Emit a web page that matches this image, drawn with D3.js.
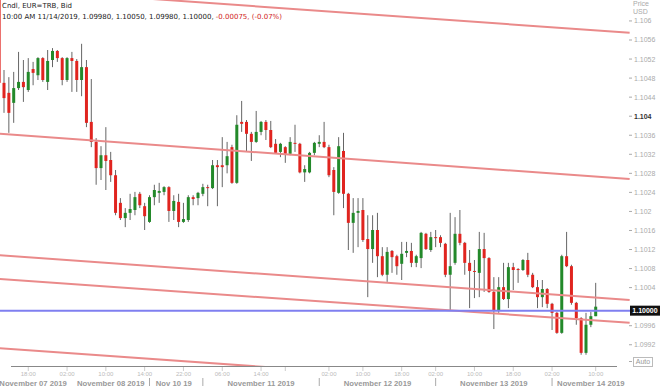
<!DOCTYPE html>
<html>
<head>
<meta charset="utf-8">
<script src="https://cdn.jsdelivr.net/npm/d3@7"></script>
<style>
  body { margin: 0; background: #fff; }
  svg { display: block; }
</style>
</head>
<body>
<svg id="chart"></svg>
<script>
// hourly candles, EUR=TRB bid
const openPrice = [1.10686,1.10470,1.10449,1.10428,1.10459,1.10472,1.10455,1.10499,1.10486,1.10522,
1.10472,1.10518,1.10537,1.10522,1.10476,1.10522,1.10516,1.10476,1.10503,1.10388,
1.10346,1.10291,1.10318,1.10308,1.10276,1.10218,1.10186,1.10197,1.10203,1.10237,
1.10211,1.10178,1.10230,1.10239,1.10241,1.10251,1.10201,1.10220,1.10178,1.10182,
1.10230,1.10228,1.10237,1.10251,1.10249,1.10297,1.10297,1.10297,1.10335,1.10260,
1.10388,1.10388,1.10363,1.10346,1.10367,1.10388,1.10371,1.10342,1.10325,1.10335,
1.10321,1.10344,1.10342,1.10282,1.10282,1.10323,1.10342,1.10346,1.10335,1.10287,
1.10239,1.10327,1.10237,1.10176,1.10197,1.10203,1.10142,1.10121,1.10161,1.10106,
1.10067,1.10117,1.10106,1.10090,1.10113,1.10117,1.10092,1.10102,1.10153,1.10119,
1.10146,1.10146,1.10132,1.10067,1.10092,1.10153,1.10134,1.10092,1.10075,1.10071,
1.10121,1.10102,1.10031,1.09993,1.10041,1.10016,1.10083,1.10079,1.10077,1.10098,
1.10067,1.10041,1.10020,1.10037,1.10006,1.09987,1.09945,1.10106,1.10085,1.10008,
1.09976,1.09903,1.09962,1.09980];
const highPrice = [1.10697,1.10497,1.10482,1.10493,1.10535,1.10518,1.10522,1.10514,1.10524,1.10524,
1.10539,1.10543,1.10539,1.10524,1.10524,1.10535,1.10520,1.10552,1.10518,1.10478,
1.10354,1.10337,1.10377,1.10325,1.10287,1.10228,1.10207,1.10237,1.10241,1.10241,
1.10218,1.10234,1.10256,1.10260,1.10253,1.10253,1.10234,1.10237,1.10218,1.10234,
1.10234,1.10241,1.10258,1.10256,1.10308,1.10308,1.10356,1.10346,1.10340,1.10402,
1.10432,1.10392,1.10367,1.10411,1.10390,1.10392,1.10390,1.10352,1.10344,1.10337,
1.10356,1.10382,1.10344,1.10297,1.10325,1.10346,1.10360,1.10388,1.10340,1.10293,
1.10356,1.10365,1.10239,1.10228,1.10228,1.10228,1.10192,1.10192,1.10197,1.10125,
1.10125,1.10119,1.10109,1.10136,1.10136,1.10134,1.10109,1.10157,1.10155,1.10157,
1.10161,1.10150,1.10134,1.10197,1.10188,1.10203,1.10136,1.10119,1.10098,1.10157,
1.10155,1.10104,1.10062,1.10062,1.10092,1.10092,1.10092,1.10081,1.10100,1.10113,
1.10071,1.10056,1.10056,1.10039,1.10008,1.09989,1.10109,1.10157,1.10088,1.10010,
1.09978,1.09987,1.09989,1.10050];
const lowPrice = [1.10459,1.10407,1.10365,1.10386,1.10455,1.10430,1.10451,1.10465,1.10476,1.10472,
1.10455,1.10503,1.10514,1.10465,1.10472,1.10451,1.10451,1.10442,1.10377,1.10335,
1.10256,1.10266,1.10245,1.10262,1.10192,1.10182,1.10167,1.10182,1.10192,1.10207,
1.10161,1.10176,1.10213,1.10218,1.10234,1.10178,1.10182,1.10167,1.10176,1.10178,
1.10213,1.10213,1.10232,1.10211,1.10247,1.10211,1.10251,1.10280,1.10258,1.10258,
1.10367,1.10325,1.10306,1.10344,1.10360,1.10350,1.10333,1.10321,1.10314,1.10302,
1.10318,1.10325,1.10280,1.10262,1.10280,1.10318,1.10335,1.10333,1.10272,1.10192,
1.10237,1.10207,1.10119,1.10113,1.10125,1.10136,1.10020,1.10092,1.10062,1.10064,
1.10052,1.10071,1.10067,1.10056,1.10104,1.10083,1.10083,1.10081,1.10119,1.10115,
1.10125,1.10125,1.10062,1.09993,1.10088,1.10129,1.10067,1.09997,1.10018,1.10020,
1.10031,1.10029,1.09953,1.09987,1.10014,1.09997,1.10035,1.10050,1.10075,1.10062,
1.10039,1.09997,1.09999,1.09997,1.09951,1.09943,1.09943,1.10083,1.10004,1.09962,
1.09899,1.09899,1.09957,1.09980];
const closePrice = [1.10470,1.10438,1.10407,1.10459,1.10472,1.10461,1.10493,1.10491,1.10522,1.10476,
1.10516,1.10537,1.10522,1.10476,1.10522,1.10516,1.10476,1.10503,1.10386,1.10346,
1.10291,1.10318,1.10306,1.10276,1.10197,1.10186,1.10197,1.10205,1.10230,1.10213,
1.10190,1.10230,1.10245,1.10243,1.10251,1.10201,1.10222,1.10178,1.10184,1.10230,
1.10226,1.10239,1.10251,1.10249,1.10297,1.10293,1.10293,1.10316,1.10260,1.10382,
1.10384,1.10363,1.10346,1.10367,1.10388,1.10371,1.10335,1.10323,1.10342,1.10321,
1.10346,1.10342,1.10282,1.10289,1.10323,1.10344,1.10346,1.10335,1.10276,1.10241,
1.10337,1.10237,1.10176,1.10197,1.10201,1.10140,1.10121,1.10161,1.10106,1.10067,
1.10115,1.10104,1.10085,1.10111,1.10117,1.10092,1.10106,1.10155,1.10121,1.10146,
1.10144,1.10134,1.10067,1.10085,1.10153,1.10134,1.10092,1.10075,1.10073,1.10121,
1.10102,1.10031,1.09993,1.10041,1.10016,1.10083,1.10077,1.10077,1.10098,1.10067,
1.10041,1.10020,1.10037,1.10006,1.09987,1.09945,1.10106,1.10085,1.10008,1.09976,
1.09903,1.09962,1.09980,1.10000];

// regression channel lines (price at candle 0 and at candle 130)
const channelIndex = [0, 130];
const channelStart = [1.10669, 1.10363, 1.10108, 1.10058, 1.09913];
const channelEnd = [1.10575, 1.10268, 1.10014, 1.09966, 1.09819];

// axis ticks
const yTicks = [1.106,1.1056,1.1052,1.1048,1.1044,1.104,1.1036,1.1032,1.1028,1.1024,1.102,1.1016,1.1012,1.1008,1.1004,1.0996,1.0992];
const timeTickIndex = [6,14,22,30,38,46,54,59,68,75,83,90,98,106,114,123];
const timeTickLabels = ["18:00","02:00","10:00","14:00","22:00","06:00","14:00","","02:00","10:00","18:00","02:00","10:00","18:00","02:00","10:00"];
const dateIndex = [7,23,36,54,78,102,122];
const dateLabels = ["November 07 2019","November 08 2019","Nov 10 19","November 11 2019","November 12 2019","November 13 2019","November 14 2019"];
const dateBreakIndex = [31,42,66,90,114];

const width = 660;
const height = 386;
const plotBottom = 366;

const candles = openPrice.map((o, i) => ({i: i, o: o, h: highPrice[i], l: lowPrice[i], c: closePrice[i]}));
const last = candles[candles.length - 1];

const svg = d3.select('svg#chart').attr('width', width).attr('height', height);

const x = d3.scaleLinear().domain([0, candles.length - 1]).range([-0.85, 595.7]);
const y = d3.scaleLinear().domain([1.098754, 1.10644]).range([plotBottom, 0]);

svg.append("defs").append("clipPath").attr("id", "plotclip")
  .append("rect").attr("x", 0).attr("y", 0).attr("width", 630).attr("height", plotBottom);

const plot = svg.append("g").attr("clip-path", "url(#plotclip)");

// candles
const candle = plot.append("g").selectAll("g").data(candles).join("g");
candle.append("line")
    .attr("x1", d => x(d.i)).attr("x2", d => x(d.i))
    .attr("y1", d => y(d.h)).attr("y2", d => y(d.l))
    .attr("stroke", "#666").attr("stroke-width", 1);
candle.append("rect")
    .attr("x", d => x(d.i) - 1.5)
    .attr("width", 3)
    .attr("y", d => y(Math.max(d.o, d.c)))
    .attr("height", d => Math.max(1, Math.abs(y(d.o) - y(d.c))))
    .attr("fill", d => d.c >= d.o ? "#23892a" : "#e0241f");

// channel lines
plot.append("g").selectAll("line").data(channelStart).join("line")
    .attr("x1", x(channelIndex[0])).attr("x2", x(channelIndex[1]))
    .attr("y1", d => y(d)).attr("y2", (d, i) => y(channelEnd[i]))
    .attr("stroke", "#ea8a8a").attr("stroke-width", 2);

// last price line
const lastY = y(last.c) + 4;
svg.append("line")
    .attr("x1", 0).attr("x2", 630).attr("y1", lastY).attr("y2", lastY)
    .attr("stroke", "#7f7ff0").attr("stroke-width", 2);

// header
const header = svg.append("g").attr("font-family", "DejaVu Sans").attr("font-size", 7).attr("fill", "#222");
header.append("text").attr("x", 2).attr("y", 8).text("Cndl, EUR=TRB, Bid");
const fmt = d3.format(".5f");
const h2 = header.append("text").attr("x", 2).attr("y", 18.5);
h2.append("tspan").text("10:00 AM 11/14/2019, " + [last.o, last.h, last.l, last.c].map(fmt).join(", ") + ", ");
h2.append("tspan").attr("fill", "#d01c1c").text("-0.00075, (-0.07%)");

// y axis
const yAxis = svg.append("g").attr("font-family", "Liberation Sans").attr("font-size", 7);
yAxis.append("text").attr("x", 633).attr("y", 6).attr("fill", "#aaa").text("Price");
yAxis.append("text").attr("x", 633).attr("y", 14).attr("fill", "#aaa").text("USD");
const yt = yAxis.selectAll("g.tick").data(yTicks).join("g").attr("class", "tick")
    .attr("transform", d => "translate(0," + y(d) + ")");
yt.append("line").attr("x1", 629).attr("x2", 632).attr("stroke", "#aaa");
yt.append("text").attr("x", 634).attr("dy", "0.35em")
    .attr("fill", d => d === 1.104 ? "#333" : "#aaa")
    .attr("font-weight", d => d === 1.104 ? "bold" : "normal")
    .text(d => String(d));

// last price box
yAxis.append("rect").attr("x", 630).attr("y", lastY - 5).attr("width", 30).attr("height", 10).attr("fill", "#111");
yAxis.append("text").attr("x", 645).attr("y", lastY).attr("dy", "0.35em").attr("text-anchor", "middle")
    .attr("fill", "#fff").attr("font-weight", "bold").text(fmt(last.c));

// auto button
yAxis.append("line").attr("x1", 629).attr("x2", 632).attr("y1", 361.5).attr("y2", 361.5).attr("stroke", "#aaa");
yAxis.append("rect").attr("x", 633.5).attr("y", 357.5).attr("width", 19).attr("height", 9)
    .attr("fill", "none").attr("stroke", "#bbb");
yAxis.append("text").attr("x", 643).attr("y", 362).attr("dy", "0.35em").attr("text-anchor", "middle")
    .attr("fill", "#999").text("Auto");

// x axis
const xAxis = svg.append("g").attr("font-family", "Liberation Sans");
xAxis.append("line").attr("x1", 11).attr("x2", 617).attr("y1", plotBottom + 0.5).attr("y2", plotBottom + 0.5)
    .attr("stroke", "#888");
const xt = xAxis.selectAll("g.tick").data(timeTickIndex).join("g").attr("class", "tick")
    .attr("transform", d => "translate(" + x(d) + ",0)");
xt.append("line").attr("y1", plotBottom + 1).attr("y2", plotBottom + 5).attr("stroke", "#ccc");
xt.append("text").attr("y", 375.5).attr("text-anchor", "middle").attr("font-size", 6).attr("fill", "#bbb")
    .text((d, i) => timeTickLabels[i]);

xAxis.selectAll("text.date").data(dateIndex).join("text").attr("class", "date")
    .attr("x", d => x(d)).attr("y", 385.5).attr("text-anchor", "middle")
    .attr("font-size", 7.7).attr("font-weight", "bold").attr("fill", "#999")
    .text((d, i) => dateLabels[i]);

xAxis.selectAll("line.sep").data(dateBreakIndex).join("line").attr("class", "sep")
    .attr("x1", d => x(d)).attr("x2", d => x(d)).attr("y1", 378).attr("y2", 386)
    .attr("stroke", "#aaa");
</script>
</body>
</html>
